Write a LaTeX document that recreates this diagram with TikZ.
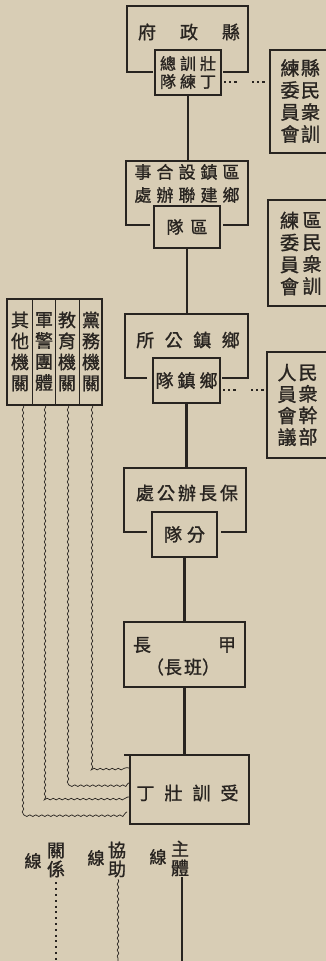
\documentclass[tikz,border=0pt]{standalone}
\usepackage{fontspec}
\setmainfont{Noto Sans CJK TC}[FakeBold=1.2]
\usetikzlibrary{calc,decorations.pathmorphing}
\definecolor{paper}{RGB}{216,205,181}
\definecolor{inkc}{RGB}{40,36,32}
\newcommand\kk[1]{\hspace{#1pt}}
\tikzset{
  every node/.style={inner sep=0pt, outer sep=0pt, text=inkc},
  fs/.style={font=\fontsize{#1}{#1}\selectfont},
  col/.style 2 args={align=center, font=\fontsize{#1}{#2}\selectfont},
  box/.style={draw=inkc, line width=2.2pt},
  frm/.style={draw=inkc, line width=2.2pt},
  mainline/.style={draw=inkc, line width=2.2pt},
  thinline/.style={draw=inkc, line width=0.6pt},
  wavy/.style={draw=inkc, line width=0.7pt, decorate, decoration={snake, amplitude=0.8pt, segment length=6pt}},
  dots/.style={draw=inkc, line width=2.4pt, dash pattern=on 2.2pt off 3pt on 2.2pt off 3pt on 2.2pt off 15.4pt},
  reldots/.style={draw=inkc, line width=2pt, dash pattern=on 2pt off 3.8pt},
}
\begin{document}
\begin{tikzpicture}[x=1pt,y=-1pt]
\fill[paper] (0,0) rectangle (326,961);
\useasboundingbox (0,0) rectangle (326,961);

% ---- Box A: county government
\node[minimum width=121pt, minimum height=66pt] (fA) at (187.5,39) {};
\draw[frm] ($(fA.south west)+(26,0)$) -- (fA.south west) -- (fA.north west) -- (fA.north east) -- (fA.south east) -- ($(fA.south east)+(-25,0)$);
\node[fs=18] (tA) at (189,32) {府\kk{24}政\kk{24}縣};
\node[box, minimum width=66pt, minimum height=45pt, align=center, font=\fontsize{16}{18}\selectfont] (iA) at (188,72.5) {總\kk{4}訓\kk{4}壯\\隊\kk{4}練\kk{4}丁};

% right box 1
\node[box, minimum width=70pt, minimum height=103pt] (rB1) at (305,101.5) {};
\node[col={19}{22}] (rB1r) at (310.5,101) {縣\\民\\衆\\訓};
\node[col={19}{22}] (rB1l) at (290,101) {練\\委\\員\\會};
\draw[dots] ($(iA.east)+(3,9.5)$) -- ($(iA.east -| rB1.west)+(-3,9.5)$);

% ---- Box B
\node[minimum width=122pt, minimum height=64pt] (fB) at (187,193) {};
\draw[frm] ($(fB.south west)+(24,0)$) -- (fB.south west) -- (fB.north west) -- (fB.north east) -- (fB.south east) -- ($(fB.south east)+(-25,0)$);
\node[align=center, font=\fontsize{17}{23}\selectfont] (tB) at (187,183.5) {事\kk{5}合\kk{5}設\kk{5}鎮\kk{5}區\\處\kk{5}辦\kk{5}聯\kk{5}建\kk{5}鄉};
\node[box, minimum width=66pt, minimum height=42pt, fs=17] (iB) at (187,227) {隊\kk{7}區};

% right box 2
\node[box, minimum width=72pt, minimum height=106pt] (rB2) at (304,253) {};
\node[col={19}{22}] (rB2r) at (312,253.5) {區\\民\\衆\\訓};
\node[col={19}{22}] (rB2l) at (289.5,253.5) {練\\委\\員\\會};

% ---- Box C
\node[minimum width=123pt, minimum height=64pt] (fC) at (186.5,346) {};
\draw[frm] ($(fC.south west)+(22,0)$) -- (fC.south west) -- (fC.north west) -- (fC.north east) -- (fC.south east) -- ($(fC.south east)+(-26,0)$);
\node[fs=18] (tC) at (188,340) {所\kk{10.5}公\kk{10.5}鎮\kk{10.5}鄉};
\node[box, minimum width=67pt, minimum height=45pt, fs=18] (iC) at (186.5,380.5) {隊\kk{4}鎮\kk{4}鄉};

% right box 3
\node[box, minimum width=73pt, minimum height=106pt] (rB3) at (303.5,405) {};
\node[col={19}{21.5}] (rB3r) at (308,405) {民\\衆\\幹\\部};
\node[col={19}{21.5}] (rB3l) at (287,405) {人\\員\\會\\議};
\draw[dots] ($(iC.east)+(3,9.5)$) -- ($(iC.east -| rB3.west)+(-3,9.5)$);

% ---- Left box
\node[box, minimum width=95pt, minimum height=106pt] (L) at (54.5,352) {};
\draw[thinline] ($(L.north west)+(25,0)$) -- ($(L.south west)+(25,0)$);
\draw[thinline] ($(L.north west)+(48,0)$) -- ($(L.south west)+(48,0)$);
\draw[thinline] ($(L.north west)+(72,0)$) -- ($(L.south west)+(72,0)$);
\node[col={18}{21}] (L1) at (20,351.5) {其\\他\\機\\關};
\node[col={18}{21}] (L2) at (44,351.5) {軍\\警\\團\\體};
\node[col={18}{21}] (L3) at (67,351.5) {教\\育\\機\\關};
\node[col={18}{21}] (L4) at (91,351.5) {黨\\務\\機\\關};

% ---- Box D
\node[minimum width=122pt, minimum height=64pt] (fD) at (185,500) {};
\draw[frm] ($(fD.south west)+(23,0)$) -- (fD.south west) -- (fD.north west) -- (fD.north east) -- (fD.south east) -- ($(fD.south east)+(-25,0)$);
\node[fs=18] (tD) at (187,493) {處\kk{3}公\kk{3}辦\kk{3}長\kk{3}保};
\node[box, minimum width=65pt, minimum height=45pt, fs=18] (iD) at (184.5,534.5) {隊\kk{5}分};

% ---- Box E
\node[box, minimum width=121pt, minimum height=65pt] (E) at (184.5,654.5) {};
\node[fs=18] (tE1) at (142,645) {長};
\node[fs=18] (tE2) at (227,645) {甲};
\node[fs=18] (tE3) at (183,667) {（長\kk{2}班）};

% ---- Box F
\node[box, minimum width=119pt, minimum height=69pt] (F) at (189.5,789.5) {};
\draw[frm] ($(F.north west)+(-6,0)$) -- (F.north east);
\node[fs=18] (tF) at (187.5,793) {丁\kk{10}壯\kk{10}訓\kk{10}受};

% ---- main line
\draw[mainline] (iA.south) -- (iA.south |- fB.north);
\draw[mainline] (iB.south) -- (iB.south |- fC.north);
\draw[mainline] (iC.south) -- (iC.south |- fD.north);
\draw[mainline] (iD.south) -- (iD.south |- E.north);
\draw[mainline] (E.south) -- (E.south |- F.north);

% ---- assisting wavy lines
\draw[wavy] ($(L.south west)+(85,0)$) |- ($(F.west)+(0,-21.5)$);
\draw[wavy] ($(L.south west)+(61,0)$) |- ($(F.west)+(0,-6.5)$);
\draw[wavy] ($(L.south west)+(38,0)$) |- ($(F.west)+(0,7.5)$);
\draw[wavy] ($(L.south west)+(16,0)$) |- ($(F.west)+(-3,22.5)$);

% ---- legend
\node[col={18}{19}] (lg1) at (56,860) {關\\係};
\node[fs=17] (lg1b) at (33,861) {線};
\coordinate (e1) at (56,961);
\draw[reldots] ($(lg1.south -| e1)+(0,5)$) -- (e1);

\node[col={18}{19}] (lg2) at (117,859.5) {協\\助};
\node[fs=17] (lg2b) at (96,858) {線};
\coordinate (e2) at (118,961);
\draw[wavy] ($(lg2.south -| e2)+(0,2)$) -- (e2);

\node[col={18}{19}] (lg3) at (180,858.5) {主\\體};
\node[fs=17] (lg3b) at (158,857) {線};
\coordinate (e3) at (182,961);
\draw[mainline] ($(lg3.south -| e3)+(0,1)$) -- (e3);
\end{tikzpicture}
\end{document}
